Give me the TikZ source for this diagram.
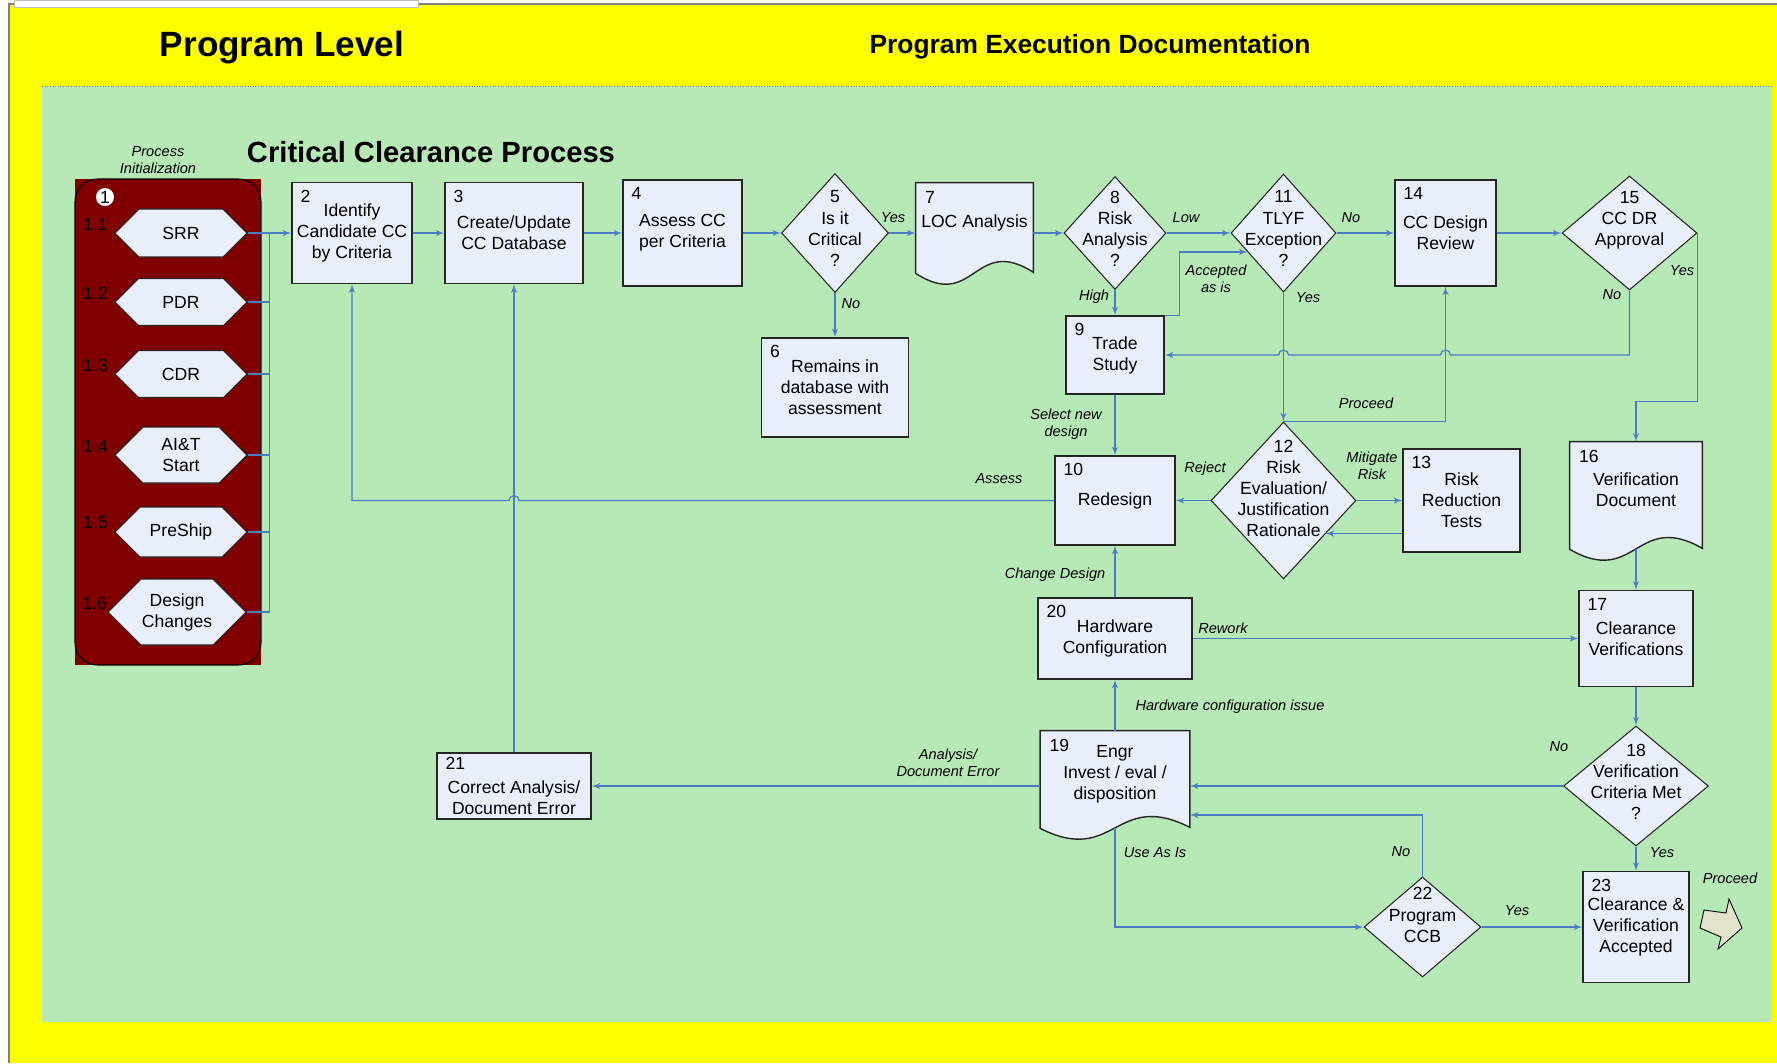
\documentclass[tikz,border=0pt]{standalone}
\usepackage{fontspec}
\setmainfont{Liberation Sans}
\usepackage{xcolor}
\usepackage{tikz}
\usetikzlibrary{shapes.geometric, shapes.symbols, arrows, calc, backgrounds}

\definecolor{pageyellow}{HTML}{FFFF00}
\definecolor{bggreen}{HTML}{B7E9B7}
\definecolor{boxfill}{HTML}{E8EEFA}
\definecolor{panelred}{HTML}{800000}
\definecolor{flowblue}{HTML}{4A7CC4}
\definecolor{exitfill}{HTML}{E2E3CB}

\begin{document}
\begin{tikzpicture}[
    x=0.02cm, y=-0.02cm,
    >=latex',
    font=\fontsize{10}{12}\selectfont,
    block/.style={rectangle, draw=black!85, fill=boxfill, line width=0.8pt, align=center, inner sep=1pt},
    docbox/.style={rectangle, align=center, inner sep=1pt},
    decision/.style={diamond, draw=black!85, fill=boxfill, line width=0.6pt, inner sep=0pt},
    hexa/.style={signal, signal to=east and west, draw=black!85, fill=boxfill, line width=0.6pt, align=center, inner sep=0pt},
    num/.style={anchor=north west, inner sep=0pt, xshift=0.18cm, yshift=-0.16cm},
    dtext/.style={align=center, inner sep=0pt},
    stagenum/.style={inner sep=0pt, xshift=-0.12cm, yshift=0.18cm},
    lbl/.style={font=\fontsize{8.3}{9.8}\selectfont\itshape, align=center, inner sep=0pt},
    title/.style={inner sep=0pt},
    arrow/.style={->, draw=flowblue, line width=0.7pt},
    link/.style={draw=flowblue, line width=0.7pt}
]
\useasboundingbox (0,0) rectangle (1777,1063);

% Page
\begin{scope}[on background layer]
\fill[white] (0,0) rectangle (1777,1063);
\fill[pageyellow] (9,4) rectangle (1777,1063);
\draw[gray, line width=0.8pt] (9,1063) -- (9,4) -- (1777,4);
\draw[black!25, fill=white, line width=0.4pt] (14,0) rectangle (418,7);
\fill[bggreen] (42,86) rectangle (1772,1022);
\draw[gray, densely dotted, line width=0.5pt] (42,86) -- (1772,86);
\end{scope}

% Titles
\node[title, font=\fontsize{20}{24}\selectfont\bfseries] (progtitle) at (282,47) {Program Level};
\node[title, font=\fontsize{15}{18}\selectfont\bfseries] (doctitle) at (1090,47) {Program Execution Documentation};
\node[title, font=\fontsize{16.6}{20}\selectfont\bfseries] (cctitle) at (431,152) {Critical Clearance Process};

% Process initialization
\fill[panelred] (75,179) rectangle (261,665);
\draw[black, line width=0.6pt, rounded corners=0.45cm] (75,179) rectangle (261,665);
\node[lbl] (initlbl) at (158,160) {Process\\Initialization};
\node[circle, fill=white, inner sep=0pt, minimum size=0.36cm] (initnum) at (105,197) {1};

\node[hexa, minimum width=2.64cm, minimum height=0.96cm, label={[stagenum]west:1.1}] (srr) at (181,233) {SRR};
\node[hexa, minimum width=2.64cm, minimum height=0.94cm, label={[stagenum]west:1.2}] (pdr) at (181,302) {PDR};
\node[hexa, minimum width=2.64cm, minimum height=0.94cm, label={[stagenum]west:1.3}] (cdr) at (181,374) {CDR};
\node[hexa, minimum width=2.64cm, minimum height=1.12cm, label={[stagenum]west:1.4}] (ait) at (181,455) {AI\&T\\Start};
\node[hexa, minimum width=2.64cm, minimum height=1.0cm, label={[stagenum]west:1.5}] (preship) at (181,532) {PreShip};
\node[hexa, minimum width=2.76cm, minimum height=1.32cm, label={[stagenum, xshift=0.12cm]west:1.6}] (desch) at (177,612) {Design\\Changes};

% Nodes
\node[block, minimum width=2.4cm, minimum height=2.02cm, label={[num]north west:2}] (ident) at (352,233) {Identify\\Candidate CC\\by Criteria};
\node[block, minimum width=2.76cm, minimum height=2.02cm, label={[num]north west:3}] (ccdb) at (514,233) {Create/Update\\CC Database};
\node[block, minimum width=2.38cm, minimum height=2.12cm, label={[num]north west:4}] (assess) at (682.5,233) {Assess CC\\per Criteria};
\node[decision, minimum width=2.14cm, minimum height=2.38cm, label={[dtext, yshift=0.09cm]center:{5\\Is it\\Critical\\?}}] (crit) at (835,233) {};
\node[block, minimum width=2.94cm, minimum height=1.98cm, label={[num]north west:6}] (remains) at (835,387.5) {Remains in\\database with\\assessment};
\node[docbox, minimum width=2.34cm, minimum height=1.58cm, label={[num]north west:7}] (loc) at (974.5,222.5) {LOC Analysis};
\node[decision, minimum width=2.04cm, minimum height=2.26cm, label={[dtext, yshift=0.09cm]center:{8\\Risk\\Analysis\\?}}] (risk) at (1115,233) {};
\node[block, minimum width=1.96cm, minimum height=1.56cm, label={[num]north west:9}] (trade) at (1115,355) {Trade\\Study};
\node[block, minimum width=2.4cm, minimum height=1.78cm, label={[num]north west:10}] (redesign) at (1115,500.5) {Redesign};
\node[decision, minimum width=2.1cm, minimum height=2.36cm, label={[dtext, yshift=0.09cm]center:{11\\TLYF\\Exception\\?}}] (tlyf) at (1283.5,233) {};
\node[decision, minimum width=2.9cm, minimum height=3.14cm, label={[dtext, yshift=0.24cm]center:{12\\Risk\\Evaluation/\\Justification\\Rationale}}] (riskeval) at (1283.5,500.5) {};
\node[block, minimum width=2.34cm, minimum height=2.06cm, label={[num]north west:13}] (rrt) at (1461.5,500.5) {Risk\\Reduction\\Tests};
\node[block, minimum width=2.02cm, minimum height=2.12cm, label={[num]north west:14}] (ccdesign) at (1445.5,233) {CC Design\\Review};
\node[decision, minimum width=2.7cm, minimum height=2.28cm, label={[dtext, yshift=0.26cm]center:{15\\CC DR\\Approval}}] (ccdr) at (1629.5,233) {};
\node[docbox, minimum width=2.64cm, minimum height=1.92cm, label={[num]north west:16}] (verdoc) at (1636,490) {Verification\\Document};
\node[block, minimum width=2.28cm, minimum height=1.92cm, label={[num]north west:17}] (clrver) at (1636,638.5) {Clearance\\Verifications};
\node[decision, minimum width=2.9cm, minimum height=2.4cm, label={[dtext, yshift=0.08cm]center:{18\\Verification\\Criteria Met\\?}}] (vcm) at (1636,786) {};
\node[docbox, minimum width=2.98cm, minimum height=1.72cm, label={[num]north west:19}] (engr) at (1115,774) {Engr\\Invest / eval /\\disposition};
\node[block, minimum width=3.08cm, minimum height=1.62cm, label={[num]north west:20}] (hwcfg) at (1115,638.5) {Hardware\\Configuration};
\node[block, minimum width=3.08cm, minimum height=1.32cm, label={[num, yshift=0.06cm]north west:21}] (corr) at (514,786) {\strut\\Correct Analysis/\\Document Error};
\node[decision, minimum width=2.34cm, minimum height=2.0cm, label={[dtext, yshift=0.24cm]center:{22\\Program\\CCB}}] (ccb) at (1422.5,927) {};
\node[block, minimum width=2.12cm, minimum height=2.22cm, label={[num]north west:23}] (accepted) at (1636,927) {Clearance \&\\Verification\\Accepted};

% Document outlines
\begin{scope}[on background layer]
\draw[fill=boxfill, draw=black!85, line width=0.8pt] (loc.north west) -- (loc.north east) -- ($(loc.south east)+(0,10)$) .. controls ($(loc.south)+(0,-28)$) and ($(loc.south)+(0,49)$) .. ($(loc.south west)+(0,11)$) -- cycle;
\draw[fill=boxfill, draw=black!85, line width=0.8pt] (verdoc.north west) -- (verdoc.north east) -- ($(verdoc.south east)+(0,10)$) .. controls ($(verdoc.south)+(0,-28)$) and ($(verdoc.south)+(0,49)$) .. ($(verdoc.south west)+(0,11)$) -- cycle;
\draw[fill=boxfill, draw=black!85, line width=0.8pt] (engr.north west) -- (engr.north east) -- ($(engr.south east)+(0,10)$) .. controls ($(engr.south)+(0,-28)$) and ($(engr.south)+(0,49)$) .. ($(engr.south west)+(0,11)$) -- cycle;
\end{scope}

% Exit
\draw[fill=exitfill, draw=black, line width=0.5pt] (1704,910) -- (1726,913) -- (1729,899) -- (1742,928) -- (1718,949) -- (1721,937) -- (1700,928) -- cycle;

% Paths
\coordinate (bus) at ($(srr.east)!0.5!(srr.east -| ident.west)$);
\draw[arrow] (srr.east) -- (srr.east -| ident.west);
\draw[link] (pdr.east) -| (bus);
\draw[link] (cdr.east) -| (bus);
\draw[link] (ait.east) -| (bus);
\draw[link] (preship.east) -| (bus);
\draw[link] (desch.east) -| (bus);

\draw[arrow] (ident) -- (ccdb);
\draw[arrow] (ccdb) -- (assess);
\draw[arrow] (assess) -- (crit);
\draw[arrow] (crit.east) -- (crit.east -| loc.west);
\draw[arrow] (crit) -- (remains);
\draw[arrow] (loc.east |- risk.west) -- (risk.west);
\draw[arrow] (risk) -- (tlyf);
\draw[arrow] (tlyf) -- (ccdesign);
\draw[arrow] (ccdesign) -- (ccdr);
\draw[arrow] (risk) -- (trade);
\draw[arrow] (trade.north east) -- ++(15,0) |- ($(tlyf.center)+(-36,19)$);
\draw[arrow] (ccdr.south) -- (ccdr.south |- trade.east) -- ($(ccdesign.south |- trade.east)+(5,0)$) arc[start angle=0, end angle=180, radius=0.1cm] -- ($(tlyf.south |- trade.east)+(5,0)$) arc[start angle=0, end angle=180, radius=0.1cm] -- (trade.east);
\draw[arrow] (ccdr.east) -- ($(ccdr.east |- verdoc.north)+(0,-40)$) -| (verdoc.north);
\draw[arrow] (tlyf) -- (riskeval);
\draw[arrow] (riskeval.north) -| (ccdesign.south);
\draw[arrow] (trade) -- (redesign);
\draw[arrow] (riskeval) -- (redesign);
\draw[arrow] (riskeval) -- (rrt);
\draw[arrow] ($(rrt.west)+(0,33)$) -- ($(riskeval.center)+(42,33)$);
\draw[arrow] (redesign.west) -- ($(ccdb.south |- redesign.west)+(5,0)$) arc[start angle=0, end angle=180, radius=0.1cm] -- (ident.south |- redesign.west) -- (ident.south);
\draw[arrow] (hwcfg) -- (redesign);
\draw[arrow] (hwcfg) -- (clrver);
\draw[arrow] ($(verdoc.south)+(0,10.5)$) -- (clrver.north);
\draw[arrow] (clrver) -- (vcm);
\draw[arrow] (vcm.west) -- (vcm.west -| engr.east);
\draw[arrow] (vcm) -- (accepted);
\draw[arrow] (engr.west |- corr.east) -- (corr.east);
\draw[arrow] (corr) -- (ccdb);
\draw[arrow] (engr) -- (hwcfg);
\draw[arrow] ($(engr.south)+(0,10.5)$) |- (ccb.west);
\draw[arrow] (ccb.north) |- ($(engr.east)+(0,41)$);
\draw[arrow] (ccb) -- (accepted);

% Labels
\node[lbl] (yes5) at (893,218) {Yes};
\node[lbl] (no5) at (851,304) {No};
\node[lbl] (low8) at (1186,218) {Low};
\node[lbl] (high8) at (1094,297) {High};
\node[lbl] (no11) at (1351,218) {No};
\node[lbl] (yes11) at (1308,298) {Yes};
\node[lbl] (accasis) at (1216,279) {Accepted\\as is};
\node[lbl] (yes15) at (1682,271) {Yes};
\node[lbl] (no15) at (1612,295) {No};
\node[lbl] (proceed12) at (1366,403) {Proceed};
\node[lbl] (selnew) at (1066,424) {Select new\\design};
\node[lbl] (assesslbl) at (999,479) {Assess};
\node[lbl] (reject) at (1205,469) {Reject};
\node[lbl] (mitigate) at (1372,466) {Mitigate\\Risk};
\node[lbl] (changedes) at (1055,575) {Change Design};
\node[lbl] (rework) at (1223,628) {Rework};
\node[lbl] (hwissue) at (1230,707) {Hardware configuration issue};
\node[lbl] (anaerr) at (948,763) {Analysis/\\Document Error};
\node[lbl] (no18) at (1559,747) {No};
\node[lbl] (useasis) at (1155,853) {Use As Is};
\node[lbl] (no22) at (1401,852) {No};
\node[lbl] (yes18) at (1662,853) {Yes};
\node[lbl] (yes22) at (1517,911) {Yes};
\node[lbl] (proceedexit) at (1730,878) {Proceed};

\end{tikzpicture}
\end{document}
